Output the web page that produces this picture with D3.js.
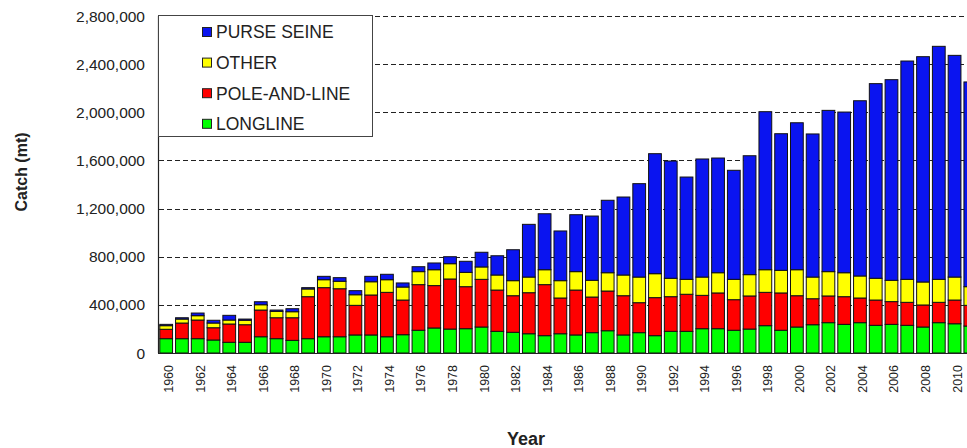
<!DOCTYPE html>
<html>
<head>
<meta charset="utf-8">
<script src="https://cdn.jsdelivr.net/npm/d3@7"></script>
<style>
  body { margin: 0; background: #fff; }
  svg { display: block; font-family: "Liberation Sans", Arial, sans-serif; }
</style>
</head>
<body>
<script>
// catch by gear, thousands of tonnes
const years = d3.range(1960, 2012);
const longline = [119, 119, 119, 108, 89, 89, 135, 119, 105, 119, 135, 135, 150, 150, 135, 152, 189, 208, 199, 202,
  216, 180, 172, 160, 144, 160, 150, 169, 185, 150, 169, 144, 180, 180, 202, 202, 189, 199, 227, 189,
  216, 235, 252, 238, 252, 230, 238, 230, 216, 252, 243, 224];
const poleAndLine = [78, 130, 155, 102, 152, 146, 222, 174, 188, 349, 408, 399, 246, 332, 369, 288, 379, 352, 416, 349,
  396, 343, 304, 341, 424, 297, 373, 296, 330, 326, 249, 316, 288, 308, 277, 297, 254, 275, 277, 310,
  260, 216, 222, 230, 205, 210, 189, 191, 183, 169, 197, 172];
const other = [30, 33, 36, 39, 33, 37, 44, 53, 50, 64, 66, 62, 88, 110, 105, 108, 108, 132, 127, 119,
  103, 125, 125, 130, 124, 144, 153, 139, 152, 172, 213, 199, 153, 124, 152, 168, 169, 177, 188, 188,
  216, 180, 202, 199, 183, 181, 177, 191, 191, 191, 191, 155];
const purseSeine = [11, 11, 22, 23, 39, 10, 25, 11, 25, 11, 28, 30, 34, 45, 45, 34, 41, 56, 58, 92,
  122, 160, 257, 438, 465, 413, 473, 534, 602, 648, 776, 997, 974, 850, 981, 953, 906, 988, 1313, 1135,
  1221, 1189, 1340, 1335, 1456, 1617, 1667, 1814, 1872, 1936, 1842, 1701];

const gears = ["longline", "poleAndLine", "other", "purseSeine"];
const gearNames = { longline: "LONGLINE", poleAndLine: "POLE-AND-LINE", other: "OTHER", purseSeine: "PURSE SEINE" };
const colors = { longline: "#00ff00", poleAndLine: "#ff0000", other: "#ffff00", purseSeine: "#0a14f0" };
const yTicks = [0, 400, 800, 1200, 1600, 2000, 2400, 2800];

const rows = years.map((y, i) => ({
  year: y, longline: longline[i], poleAndLine: poleAndLine[i], other: other[i], purseSeine: purseSeine[i]
}));

const width = 967, height = 448;
const svg = d3.select("body").append("svg").attr("width", width).attr("height", height);

const x = d3.scaleBand()
  .domain(years)
  .range([158.5, 977])
  .paddingInner(0.19)
  .paddingOuter(0.05);

const y = d3.scaleLinear().domain([0, 2800]).range([353, 16]);

// grid lines
svg.selectAll(".grid")
  .data(yTicks.filter(d => d > 0))
  .enter()
  .append("line")
  .attr("x1", 159)
  .attr("x2", width)
  .attr("y1", d => Math.round(y(d)) + 0.5)
  .attr("y2", d => Math.round(y(d)) + 0.5)
  .attr("stroke", "#222")
  .attr("stroke-dasharray", "5,3");

// stacked bars
const stack = d3.stack().keys(gears)(rows);
svg.selectAll(".layer")
  .data(stack)
  .enter()
  .append("g")
  .attr("fill", d => colors[d.key])
  .selectAll("rect")
  .data(d => d)
  .enter()
  .append("rect")
  .attr("x", d => x(d.data.year) + 0.5)
  .attr("width", x.bandwidth())
  .attr("y", d => y(d[1]))
  .attr("height", d => y(d[0]) - y(d[1]))
  .attr("stroke", "#111")
  .attr("stroke-width", 1);

// axes lines
svg.append("line").attr("x1", 158.5).attr("x2", 158.5).attr("y1", 16).attr("y2", 353)
  .attr("stroke", "#222").attr("stroke-width", 1.2);
svg.append("line").attr("x1", 158).attr("x2", width).attr("y1", 353.5).attr("y2", 353.5)
  .attr("stroke", "#222").attr("stroke-width", 1.2);

// y tick labels
svg.selectAll(".ylab")
  .data(yTicks)
  .enter()
  .append("text")
  .attr("x", 145)
  .attr("y", d => y(d))
  .attr("dy", "0.36em")
  .attr("text-anchor", "end")
  .style("font-size", "15.5px")
  .attr("fill", "#222")
  .text(d => d3.format(",")(d * 1000));

// x tick labels, every other year
svg.selectAll(".xlab")
  .data(years.filter(d => d % 2 === 0))
  .enter()
  .append("text")
  .attr("transform", d => `translate(${x(d) + x.bandwidth() / 2 + 3},365) rotate(-90)`)
  .attr("dy", "0.36em")
  .attr("text-anchor", "end")
  .style("font-size", "12.5px")
  .attr("fill", "#222")
  .text(d => d);

// axis titles
svg.append("text")
  .attr("transform", "translate(27,172) rotate(-90)")
  .attr("text-anchor", "middle")
  .style("font-size", "16px")
  .style("font-weight", "bold")
  .attr("fill", "#222")
  .text("Catch (mt)");

svg.append("text")
  .attr("x", 526)
  .attr("y", 445)
  .attr("text-anchor", "middle")
  .style("font-size", "18px")
  .style("font-weight", "bold")
  .attr("fill", "#222")
  .text("Year");

// legend
const legend = svg.append("g");
legend.append("rect")
  .attr("x", 158.5).attr("y", 15.5)
  .attr("width", 214).attr("height", 121)
  .attr("fill", "#fff")
  .attr("stroke", "#444");

const legendOrder = ["purseSeine", "other", "poleAndLine", "longline"];
const item = legend.selectAll(".item")
  .data(legendOrder)
  .enter()
  .append("g")
  .attr("transform", (d, i) => `translate(0,${32 + i * 30.6})`);

item.append("rect")
  .attr("x", 202.5).attr("y", -4.5)
  .attr("width", 9).attr("height", 9)
  .attr("fill", d => colors[d])
  .attr("stroke", "#222");

item.append("text")
  .attr("x", 216)
  .attr("dy", "0.36em")
  .style("font-size", "17.5px")
  .attr("fill", "#222")
  .text(d => gearNames[d]);
</script>
</body>
</html>
